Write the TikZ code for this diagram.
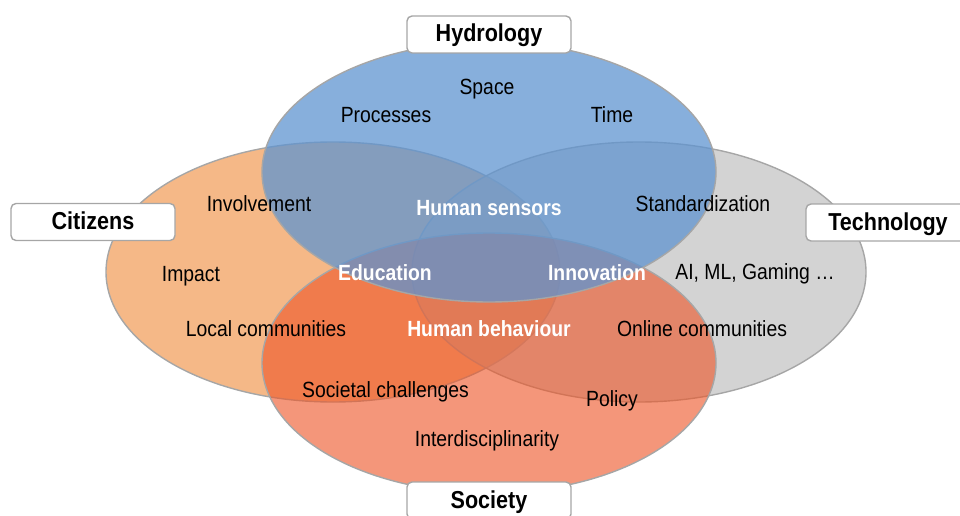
\documentclass[tikz,border=0pt]{standalone}
\usepackage{fontspec}
\newfontfamily\vennfont{Liberation Sans}[FakeStretch=0.88]
\usepackage{xcolor}
\definecolor{colCitt}{HTML}{F5B887}
\definecolor{colTecn}{HTML}{B6B6B6}
\definecolor{colSoc}{HTML}{ED5628}
\definecolor{colIdro}{HTML}{5F94D0}
\definecolor{bordo}{HTML}{A6A6A6}
\tikzset{
  insieme/.style={draw = bordo, line width = 1.4pt},
  titolo/.style={draw = bordo, fill = white, rounded corners = 5pt, line width = 1.4pt,
    minimum width = 164pt, minimum height = 37pt, inner sep = 0pt,
    text height = 17.5pt, text depth = 2.5pt,
    font = \vennfont\fontsize{24.5}{24.5}\selectfont\bfseries},
  voce/.style={anchor = base, inner sep = 0pt, font = \vennfont\fontsize{22}{22}\selectfont},
  chiave/.style={voce, text = white, font = \vennfont\fontsize{22}{22}\selectfont\bfseries}
}

\begin{document}
\begin{tikzpicture}[x = 1pt, y = -1pt]
    % Parametri
    \pgfmathsetmacro{\rx}{227}
    \pgfmathsetmacro{\ry}{130}
    \useasboundingbox (0,0) rectangle (960,516);
    \clip (0,0) rectangle (960,516);
    % Ellissi
    \draw[insieme, fill = colCitt] (333,272) ellipse [x radius = \rx, y radius = \ry];
    \draw[insieme, fill = colTecn, fill opacity = 0.6] (639,272) ellipse [x radius = \rx, y radius = \ry];
    \draw[insieme, fill = colSoc, fill opacity = 0.62] (489,363) ellipse [x radius = \rx, y radius = \ry];
    \draw[insieme, fill = colIdro, fill opacity = 0.75] (489,172) ellipse [x radius = \rx, y radius = \ry];
    % Titoli
    \node[titolo] (idrologia) at (489,34.5) {Hydrology};
    \node[titolo] (cittadini) at (93,222) {Citizens};
    \node[titolo] (tecnologia) at (888,222.5) {Technology};
    \node[titolo] (societa) at (489,500.5) {Society};
    % Voci
    \node[voce] (spazio) at (487,95) {Space};
    \node[voce] (processi) at (386,122) {Processes};
    \node[voce] (tempo) at (612,122) {Time};
    \node[voce] (coinvolgimento) at (259,211.5) {Involvement};
    \node[voce] (standard) at (703,211.5) {Standardization};
    \node[voce] (impatto) at (191,281) {Impact};
    \node[voce] (giochi) at (755,279.5) {AI, ML, Gaming …};
    \node[voce] (locali) at (266,336.5) {Local communities};
    \node[voce] (online) at (702,336.5) {Online communities};
    \node[voce] (sfide) at (385.5,397.5) {Societal challenges};
    \node[voce] (politica) at (612,406) {Policy};
    \node[voce] (interdisc) at (487,446.5) {Interdisciplinarity};
    % Intersezioni
    \node[chiave] (sensori) at (489,215) {Human sensors};
    \node[chiave] (educazione) at (385,280) {Education};
    \node[chiave] (innovazione) at (597,280) {Innovation};
    \node[chiave] (comportamento) at (489,336.5) {Human behaviour};
\end{tikzpicture}
\end{document}
